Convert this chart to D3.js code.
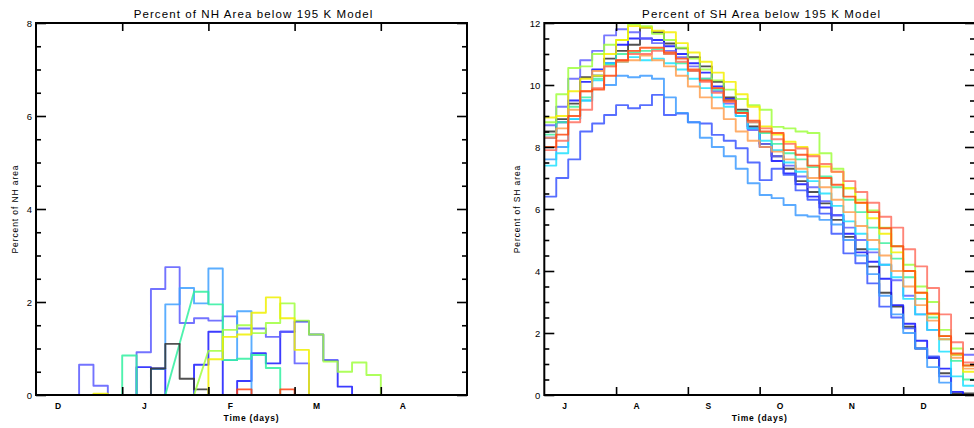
<!DOCTYPE html>
<html>
<head>
<meta charset="utf-8">
<script src="https://cdn.jsdelivr.net/npm/d3@7"></script>
<style>
  body { margin: 0; background: #fff; }
  svg { display: block; }
  text { font-family: "Liberation Sans", Arial, sans-serif; fill: #000; }
</style>
</head>
<body>
<svg id="chart" width="974" height="428"></svg>
<script>
// ---- Northern hemisphere: 5-day means from Dec 1 (null = missing pentad)
const nhMonthLetters = ["D", "J", "F", "M", "A"];
const nhMonthLabelDays = [7.5, 37.5, 67.5, 97.5, 127.5];
const nhMonthTickDays = [30, 60, 90, 120];
const nhYTicks = [0, 2, 4, 6, 8];

const nhLavender = [0,0,0,0.65,0.2,0,0,0.92,2.28,2.75,1.55,1.65,1.6,1.69,1.43,1.43,1.25,1.36,0.68,0,0,0,0,0,0,0,0,0,0,0];
const nhDodger   = [0,0,0,0,0,0,0,0,0.56,1.95,2.3,1.97,2.72,0.75,1.8,0,0,0,0,0,0,0,0,0,0,0,0,0,0,0];
const nhAqua     = [0,0,0,0,0,0,0.85,0,0,null,null,2.22,1.95,0.75,0.78,0.86,0.58,0,0,0,0,0,0,0,0,0,0,0,0,0];
const nhBlack    = [0,0,0,0,0,0,0,0,0.57,1.1,0.35,0.12,0,0,0,0,0,0,0,0,0,0,0,0,0,0,0,0,0,0];
const nhLime     = [0,0,0,0,0,0,0,0,0,0,0,null,0.95,1.4,1.5,1.33,1.55,1.97,1.6,1.3,0.72,0.5,0.7,0.43,0,0,0,0,0,0];
const nhYellow   = [0,0,0,0,0.03,0,0,0,0,0,0,0,0.77,1.25,1.3,1.77,2.1,1.65,0.97,0,0,0,0,0,0,0,0,0,0,0];
const nhRed      = [0,0,0,0,0,0,0,0,0,0,0,0,0,0,0.12,0,0,0.12,0,0,0,0,0,0,0,0,0,0,0,0];
const nhBlue     = [0,0,0,0,0,0,0,0.6,0.57,0,0,0.65,1.36,0,0.3,0.9,0.68,1.36,1.58,1.3,0.75,0.18,0,0,0,0,0,0,0,0];

// ---- Southern hemisphere: 5-day means from Jul 1
const shMonthLetters = ["J", "A", "S", "O", "N", "D"];
const shMonthLabelDays = [8.3, 38.3, 68.3, 98.3, 128.3, 158.3];
const shMonthTickDays = [30, 60, 90, 120, 150];
const shYTicks = [0, 2, 4, 6, 8, 10, 12];

const shBlack   = [8.5,8.9,9.4,10.25,10.3,10.85,11.1,11.3,11.85,11.7,11.34,11.18,10.9,10.6,10.1,9.6,9.2,8.66,8.1,7.7,7.3,6.9,6.55,6.18,5.65,5.1,4.7,4.14,3.3,2.85,2.2,1.5,1.2,0.7,0.05,0.05];
const shBlue    = [8.3,8.8,9.5,10.1,10.5,10.7,11.3,11.5,11.5,11.45,11.25,11.0,10.7,10.4,9.95,9.55,9.1,8.6,8.0,7.55,7.15,6.8,6.4,6.05,5.8,5.2,4.6,4.3,3.75,2.9,2.3,1.75,1.2,0.85,0.1,0];
const shSlate   = [8.7,9.3,10.2,10.8,11.1,11.6,11.8,11.7,11.5,11.35,11.1,10.9,10.6,10.2,9.8,9.4,9.0,8.55,8.1,7.7,7.4,7.05,6.7,6.25,5.8,5.4,5.0,4.6,4.2,3.7,3.2,2.6,2.1,1.9,1.3,1.3];
const shLowBlue = [6.4,7.0,7.6,8.5,8.76,9.03,9.35,9.25,9.35,9.68,9.03,9.08,8.8,8.76,8.39,8.2,7.96,7.5,6.93,7.3,7.1,6.6,6.3,5.85,5.2,4.57,4.25,3.6,2.85,2.5,2.15,1.5,1.24,0.6,0,0];
const shDodger  = [7.6,8.0,8.9,9.5,10.3,10.0,10.3,10.25,10.3,10.2,9.6,9.1,8.8,8.3,8.0,7.7,7.3,6.83,6.45,6.35,6.13,5.8,5.76,5.65,5.5,5.0,4.5,3.9,3.2,2.6,2.0,1.5,0.9,0.4,0,0];
const shCyan    = [7.4,7.8,8.9,9.5,10.15,10.7,10.75,10.9,10.8,10.85,10.7,10.5,10.2,9.9,9.6,9.3,9.0,8.6,8.2,7.9,7.5,7.2,6.9,6.5,6.1,5.6,5.2,4.7,4.2,3.8,3.1,2.6,2.1,1.4,0.6,0.3];
const shAqua    = [8.4,8.8,9.3,9.6,10.2,10.65,11.0,11.05,11.1,11.15,11.0,10.7,10.45,10.2,9.85,9.5,9.15,8.8,8.45,8.1,7.8,7.6,7.35,7.05,6.7,6.3,5.9,5.4,4.9,4.4,3.8,3.1,2.5,1.8,1.1,0.5];
const shLime    = [8.8,9.7,10.55,10.6,11.0,11.3,11.45,11.95,11.9,11.65,11.45,11.2,10.85,10.5,10.15,9.85,9.55,9.35,9.2,8.65,8.6,8.5,8.45,7.8,7.3,6.67,6.3,5.95,5.4,4.8,4.2,3.5,3.0,2.1,1.5,0.95];
const shYellow  = [8.95,9.0,9.8,10.2,10.3,11.0,11.45,11.9,11.85,11.75,11.7,11.35,11.05,10.75,10.4,10.1,9.7,9.3,8.66,8.4,8.17,8.0,7.75,7.37,7.2,6.67,6.2,5.7,5.2,4.6,4.0,3.3,2.6,1.9,1.3,0.75];
const shOrange  = [8.3,8.6,9.2,9.8,10.45,10.6,10.75,10.8,10.95,10.8,10.6,10.3,9.95,9.6,9.25,8.9,8.5,8.2,8.0,7.85,7.6,7.3,7.0,6.7,6.3,5.9,5.45,5.0,4.5,4.0,3.5,2.9,2.4,1.8,1.2,0.85];
const shSalmon  = [7.9,8.2,8.8,9.2,9.9,10.6,10.8,11.0,11.0,11.1,11.0,10.75,10.45,10.1,9.75,9.45,9.1,8.8,8.6,8.25,8.1,7.95,7.7,7.45,7.2,6.9,6.55,6.2,5.75,5.4,4.7,4.15,3.45,2.6,1.7,1.05];
const shRed     = [8.0,8.4,9.0,9.8,9.85,10.3,10.8,11.1,11.2,11.2,11.05,10.85,10.5,10.15,9.9,9.5,9.1,8.85,8.5,8.45,7.9,7.75,7.4,7.0,6.78,6.4,6.2,5.9,5.38,4.8,4.0,3.3,2.63,1.9,1.34,0.95];

const nhSeries = [
  { color: "#1a1aff", values: nhBlue },
  { color: "#5b5bff", values: nhLavender },
  { color: "#3ea0ff", values: nhDodger },
  { color: "#30f0a0", values: nhAqua },
  { color: "#333333", values: nhBlack },
  { color: "#a0ff40", values: nhLime },
  { color: "#f0f000", values: nhYellow },
  { color: "#ff4010", values: nhRed }
];
const shSeries = [
  { color: "#333333", values: shBlack },
  { color: "#1010ff", values: shBlue },
  { color: "#6060ff", values: shSlate },
  { color: "#3a55ff", values: shLowBlue },
  { color: "#3d9bff", values: shDodger },
  { color: "#20e0ff", values: shCyan },
  { color: "#40f0a0", values: shAqua },
  { color: "#a0ff40", values: shLime },
  { color: "#f5f000", values: shYellow },
  { color: "#ffa050", values: shOrange },
  { color: "#ff7060", values: shSalmon },
  { color: "#ff4a10", values: shRed }
];

const svg = d3.select("#chart");

// Each pentad value is a flat plateau; consecutive plateaus join vertically,
// and a missing pentad is bridged by a straight segment.
function plateaus(values, startDay, width) {
  const pts = [];
  values.forEach((v, i) => {
    if (v === null) return;
    const d0 = startDay + i * width;
    pts.push([d0, v], [d0 + width, v]);
  });
  return pts;
}

function panel(opt) {
  const x = d3.scaleLinear().domain(opt.xDomain).range([opt.left, opt.right]);
  const y = d3.scaleLinear().domain(opt.yDomain).range([opt.bottom, opt.top]);
  const g = svg.append("g");

  const clipId = opt.id + "-clip";
  g.append("clipPath").attr("id", clipId).append("rect")
    .attr("x", opt.left).attr("y", opt.top)
    .attr("width", opt.right - opt.left).attr("height", opt.bottom - opt.top);

  const line = d3.line().x(d => x(d[0])).y(d => y(d[1]));
  g.append("g").attr("clip-path", `url(#${clipId})`)
    .selectAll("path").data(opt.series).join("path")
    .attr("d", s => line(plateaus(s.values, opt.startDay, 5)))
    .attr("fill", "none")
    .attr("stroke", s => s.color)
    .attr("stroke-width", 1.9)
    .attr("stroke-opacity", 0.85)
    .attr("stroke-linejoin", "round");

  // y axes: minor ticks every 0.5, major every 2
  const minor = d3.range(opt.yDomain[0], opt.yDomain[1] + 0.001, 0.5).filter(v => v % 2 !== 0);
  const axStyle = sel => sel.call(s => s.select(".domain").remove())
    .selectAll("line").attr("stroke", "#000").attr("stroke-width", 1.6);

  g.append("g").attr("transform", `translate(${opt.left},0)`)
    .call(d3.axisLeft(y).tickValues(minor).tickSize(-5).tickFormat(""))
    .call(axStyle);
  g.append("g").attr("transform", `translate(${opt.left},0)`)
    .call(d3.axisLeft(y).tickValues(opt.yTicks).tickSize(-10).tickPadding(4).tickFormat(d3.format("d")))
    .call(axStyle)
    .selectAll("text").attr("font-size", 9.5).attr("font-family", "Liberation Sans, Arial, sans-serif");
  g.append("g").attr("transform", `translate(${opt.right},0)`)
    .call(d3.axisRight(y).tickValues(minor).tickSize(-5).tickFormat(""))
    .call(axStyle);
  g.append("g").attr("transform", `translate(${opt.right},0)`)
    .call(d3.axisRight(y).tickValues(opt.yTicks).tickSize(-10).tickFormat(""))
    .call(axStyle);

  // month boundaries on top and bottom
  g.append("g").attr("transform", `translate(0,${opt.top})`)
    .call(d3.axisTop(x).tickValues(opt.monthTicks).tickSize(-8).tickFormat(""))
    .call(axStyle);
  g.append("g").attr("transform", `translate(0,${opt.bottom})`)
    .call(d3.axisBottom(x).tickValues(opt.monthTicks).tickSize(-8).tickFormat(""))
    .call(axStyle);

  // month letters
  g.append("g").attr("transform", `translate(0,${opt.bottom})`)
    .call(d3.axisBottom(x).tickValues(opt.monthLabelDays).tickSize(0).tickPadding(8)
      .tickFormat((d, i) => opt.monthLetters[i]))
    .call(s => s.select(".domain").remove())
    .selectAll("text").attr("font-size", 8.5).attr("font-weight", "bold")
    .attr("font-family", "Liberation Sans, Arial, sans-serif");

  // frame
  g.append("rect")
    .attr("x", opt.left).attr("y", opt.top)
    .attr("width", opt.right - opt.left).attr("height", opt.bottom - opt.top)
    .attr("fill", "none").attr("stroke", "#000").attr("stroke-width", 2);

  const cx = (opt.left + opt.right) / 2;
  g.append("text").attr("x", cx + 2).attr("y", 18)
    .attr("text-anchor", "middle").attr("font-size", 11.5).attr("letter-spacing", 1.1)
    .text(opt.title);
  g.append("text").attr("x", cx).attr("y", 421)
    .attr("text-anchor", "middle").attr("font-size", 8.5).attr("font-weight", "bold")
    .attr("letter-spacing", 0.8)
    .text("Time (days)");
  g.append("text")
    .attr("transform", `translate(${opt.yLabelX},${(opt.top + opt.bottom) / 2}) rotate(-90)`)
    .attr("text-anchor", "middle").attr("font-size", 8.5).attr("letter-spacing", 0.9)
    .text(opt.yLabel);
}

panel({
  id: "nh", left: 36, right: 467, top: 23, bottom: 395,
  xDomain: [0, 150], yDomain: [0, 8], startDay: 0,
  series: nhSeries, yTicks: nhYTicks,
  monthTicks: nhMonthTickDays, monthLabelDays: nhMonthLabelDays, monthLetters: nhMonthLetters,
  title: "Percent of NH Area below 195 K Model",
  yLabel: "Percent of NH area", yLabelX: 18
});

panel({
  id: "sh", left: 544.3, right: 975, top: 23, bottom: 395,
  xDomain: [0, 180], yDomain: [0, 12], startDay: 0,
  series: shSeries, yTicks: shYTicks,
  monthTicks: shMonthTickDays, monthLabelDays: shMonthLabelDays, monthLetters: shMonthLetters,
  title: "Percent of SH Area below 195 K Model",
  yLabel: "Percent of SH area", yLabelX: 520
});
</script>
</body>
</html>
